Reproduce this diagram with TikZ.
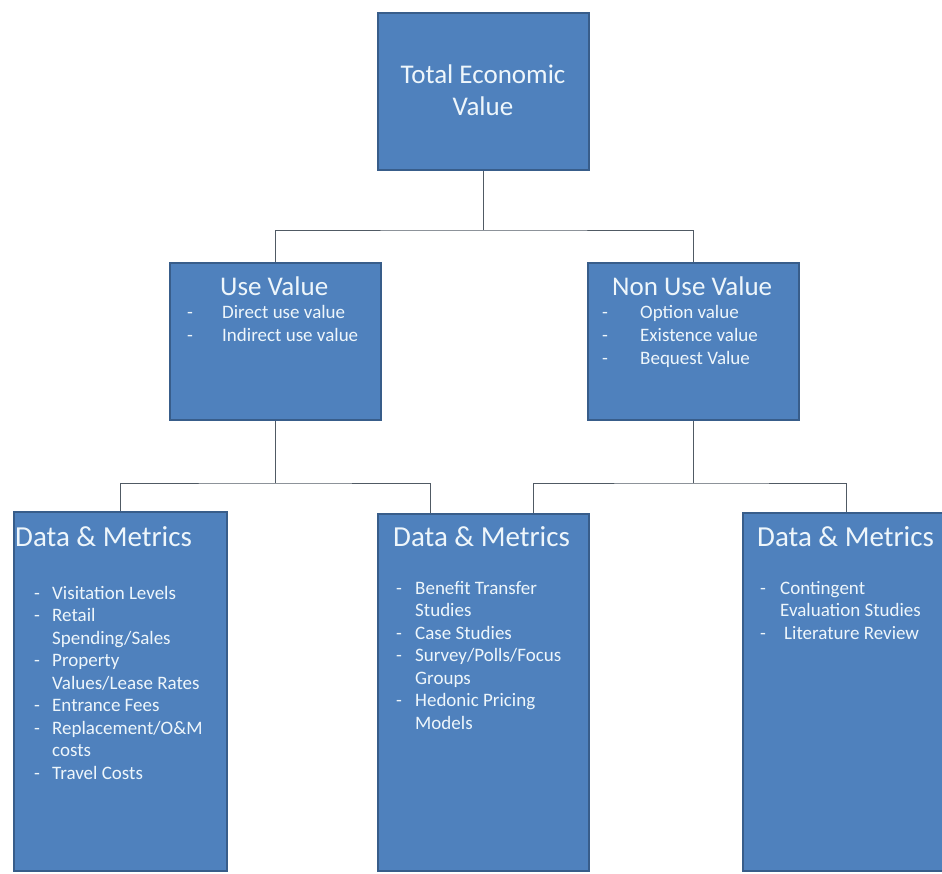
\documentclass[tikz,border=0pt]{standalone}
\usepackage{fontspec}
\setmainfont{Carlito}
\definecolor{boxfill}{HTML}{4F81BD}
\definecolor{boxline}{HTML}{385D8A}
\definecolor{boxtext}{HTML}{EEF6FB}
\definecolor{conn}{HTML}{505A64}
\tikzset{
  box/.style={draw=boxline, line width=1.5pt, fill=boxfill, anchor=north west, inner sep=0pt},
  title/.style={anchor=base west, inner sep=0pt, text=boxtext, font=\fontsize{27}{30}\selectfont},
  dmtitle/.style={title, font=\fontsize{29}{32}\selectfont},
  item/.style={anchor=base west, inner sep=0pt, text=boxtext, font=\fontsize{19}{22}\selectfont},
  conn/.style={draw=conn, line width=0.8pt}
}
\begin{document}
\begin{tikzpicture}[x=1pt,y=-1pt]
\useasboundingbox (0,0) rectangle (942,873);
\clip (0,0) rectangle (942,873);
\fill[white] (0,0) rectangle (942,873);
% boxes
\node[box, minimum width=211pt, minimum height=157pt] (tev) at (377,12) {};
\node[box, minimum width=211pt, minimum height=157pt] (use) at (169,262) {};
\node[box, minimum width=211pt, minimum height=157pt] (non) at (587,262) {};
\node[box, minimum width=213pt, minimum height=359pt] (dm1) at (13,511) {};
\node[box, minimum width=211pt, minimum height=357pt] (dm2) at (377,513) {};
\node[box, minimum width=230pt, minimum height=358pt] (dm3) at (742,512) {};
% connectors
\coordinate (j1) at (485,230);
\coordinate (j2) at (275,483);
\coordinate (j3) at (693,483);
\draw[conn] (tev.south) -- (tev.south |- j1);
\draw[conn] (use.north) |- (tev.south |- j1) -| (non.north);
\draw[conn] (use.south) -- (use.south |- j2);
\draw[conn] (dm1.north -| 120,0) |- (use.south |- j2) -| (430,513);
\draw[conn] (non.south) -- (non.south |- j3);
\draw[conn] (533,513) |- (non.south |- j3) -| (846,512);
% Total Economic Value
\node[anchor=base, inner sep=0pt, text=boxtext, font=\fontsize{27}{30}\selectfont] (tevA) at (483,83) {Total Economic};
\node[anchor=base, inner sep=0pt, text=boxtext, font=\fontsize{27}{30}\selectfont] (tevB) at (483,115) {Value};
% Use Value
\node[title] (useT) at (220,295) {Use Value};
\node[item] (useD1) at (187,318) {-};
\node[item] (useI1) at (222,318) {Direct use value};
\node[item] (useD2) at (187,341) {-};
\node[item] (useI2) at (222,341) {Indirect use value};
% Non Use Value
\node[title] (nonT) at (612,295) {Non Use Value};
\node[item] (nonD1) at (602,318) {-};
\node[item] (nonI1) at (640,318) {Option value};
\node[item] (nonD2) at (602,341) {-};
\node[item] (nonI2) at (640,341) {Existence value};
\node[item] (nonD3) at (602,364) {-};
\node[item] (nonI3) at (640,364) {Bequest Value};
% Data & Metrics 1
\node[dmtitle] (dm1T) at (15,546) {Data \& Metrics};
\node[item] (a1) at (34,599) {-};
\node[item] (b1) at (52,599) {Visitation Levels};
\node[item] (a2) at (34,621.5) {-};
\node[item] (b2) at (52,621.5) {Retail};
\node[item] (b3) at (52,644) {Spending/Sales};
\node[item] (a4) at (34,666.5) {-};
\node[item] (b4) at (52,666.5) {Property};
\node[item] (b5) at (52,689) {Values/Lease Rates};
\node[item] (a6) at (34,711.5) {-};
\node[item] (b6) at (52,711.5) {Entrance Fees};
\node[item] (a7) at (34,734) {-};
\node[item] (b7) at (52,734) {Replacement/O\&M};
\node[item] (b8) at (52,756.5) {costs};
\node[item] (a9) at (34,779) {-};
\node[item] (b9) at (52,779) {Travel Costs};
% Data & Metrics 2
\node[dmtitle] (dm2T) at (393,546) {Data \& Metrics};
\node[item] (c1) at (396,594) {-};
\node[item] (d1) at (415,594) {Benefit Transfer};
\node[item] (d2) at (415,616.5) {Studies};
\node[item] (c3) at (396,639) {-};
\node[item] (d3) at (415,639) {Case Studies};
\node[item] (c4) at (396,661.5) {-};
\node[item] (d4) at (415,661.5) {Survey/Polls/Focus};
\node[item] (d5) at (415,684) {Groups};
\node[item] (c6) at (396,706.5) {-};
\node[item] (d6) at (415,706.5) {Hedonic Pricing};
\node[item] (d7) at (415,729) {Models};
% Data & Metrics 3
\node[dmtitle] (dm3T) at (757,546) {Data \& Metrics};
\node[item] (e1) at (760,594) {-};
\node[item] (f1) at (780,594) {Contingent};
\node[item] (f2) at (780,616.5) {Evaluation Studies};
\node[item] (e3) at (760,639) {-};
\node[item] (f3) at (784,639) {Literature Review};
\end{tikzpicture}
\end{document}
